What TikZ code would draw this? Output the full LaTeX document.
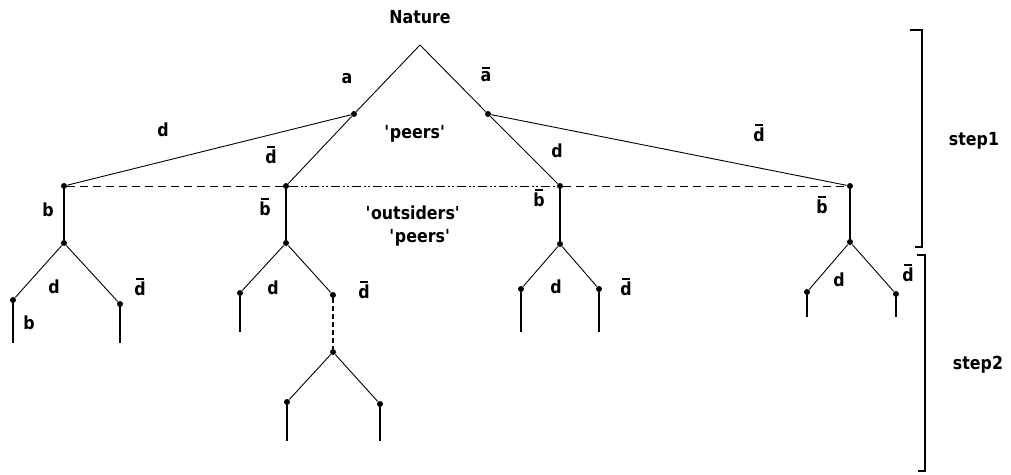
\documentclass[tikz,border=0pt]{standalone}
\usepackage{fontspec}
\setmainfont[FakeStretch=0.88]{DejaVu Sans}
\newcommand\qs{\textquotesingle}
\newcommand\barlab[1]{\setbox0\hbox{#1}\vbox{\offinterlineskip\hbox to\wd0{\hss\rule{0.7\wd0}{2.2pt}\hss}\kern2pt\box0}}
\begin{document}
\begin{tikzpicture}[x=1pt,y=-1pt,line width=.9pt,
	dot/.style={circle,fill,inner sep=0pt,minimum size=6pt},
	lab/.style={font=\fontsize{18}{20}\selectfont\bfseries,inner sep=0pt},
	stem/.style={line width=1.3pt},
	hdash/.style={dash pattern=on 8pt off 5pt},
	hmix/.style={dash pattern=on 9pt off 3pt on 2pt off 2pt on 2pt off 3pt}]
	\useasboundingbox (0,0) rectangle (1011,474);
	% step 1
	\coordinate (root) at (420,45);
	\node[dot] (A) at (354,114) {};	\node[dot] (Ab) at (488,114) {};
	\node[dot] (L1) at (64,186) {};	\node[dot] (L2) at (286,186) {};
	\node[dot] (L3) at (560,186) {};	\node[dot] (L4) at (850,186) {};
	\node[dot] (M1) at (64,243) {};	\node[dot] (M2) at (286,243) {};
	\node[dot] (M3) at (560,244) {};	\node[dot] (M4) at (850,242) {};
	\draw (root)--(A);	\draw (root)--(Ab);
	\draw (A)--(L1);	\draw (A)--(L2);
	\draw (Ab)--(L3);	\draw (Ab)--(L4);
	\draw[hdash] (L1)--(L2);	\draw[hmix] (L2)--(L3);	\draw[hdash] (L3)--(L4);
	\draw[stem] (L1)--(M1);	\draw[stem] (L2)--(M2);
	\draw[stem] (L3)--(M3);	\draw[stem] (L4)--(M4);
	% step 2
	\node[dot] (c11) at (13,300) {};	\node[dot] (c12) at (120,304) {};
	\node[dot] (c21) at (240,293) {};	\node[dot] (c22) at (333,295) {};
	\node[dot] (N) at (333,352) {};
	\node[dot] (n1) at (287,402) {};	\node[dot] (n2) at (380,404) {};
	\node[dot] (c31) at (521,289) {};	\node[dot] (c32) at (599,289) {};
	\node[dot] (c41) at (807,292) {};	\node[dot] (c42) at (896,294) {};
	\coordinate (e11) at (13,343);	\coordinate (e12) at (120,343);
	\coordinate (e21) at (240,332);
	\coordinate (f1) at (287,441);	\coordinate (f2) at (380,441);
	\coordinate (e31) at (521,332);	\coordinate (e32) at (599,332);
	\coordinate (e41) at (807,317);	\coordinate (e42) at (896,317);
	\draw (M1)--(c11);	\draw (M1)--(c12);
	\draw (M2)--(c21);	\draw (M2)--(c22);
	\draw (N)--(n1);	\draw (N)--(n2);
	\draw (M3)--(c31);	\draw (M3)--(c32);
	\draw (M4)--(c41);	\draw (M4)--(c42);
	\draw[stem] (c11)--(e11);	\draw[stem] (c12)--(e12);
	\draw[stem] (c21)--(e21);	\draw[stem,dash pattern=on 5pt off 3pt] (c22)--(N);
	\draw[stem] (n1)--(f1);	\draw[stem] (n2)--(f2);
	\draw[stem] (c31)--(e31);	\draw[stem] (c32)--(e32);
	\draw[stem] (c41)--(e41);	\draw[stem] (c42)--(e42);
	% labels
	\node[lab] (nat) at (420,17) {Nature};
	\node[lab] (la) at (347,79) {a};	\node[lab] (lab) at (486,74) {\barlab{a}};
	\node[lab] (ld1) at (163,130) {d};	\node[lab] (ldb1) at (271,155) {\barlab{d}};
	\node[lab] (peer1) at (415,134) {\qs peers\qs};
	\node[lab] (ld2) at (557,151) {d};	\node[lab] (ldb2) at (759,133) {\barlab{d}};
	\node[lab] (lb1) at (48,210) {b};	\node[lab] (lbb1) at (265,207) {\barlab{b}};
	\node[lab] (outs) at (413,213) {\qs outsiders\qs};
	\node[lab] (peer2) at (420,238) {\qs peers\qs};
	\node[lab] (lbb2) at (539,198) {\barlab{b}};	\node[lab] (lbb3) at (822,205) {\barlab{b}};
	\node[lab] (ld3) at (54,287) {d};	\node[lab] (ldb3) at (140,287) {\barlab{d}};
	\node[lab] (lb2) at (29,323) {b};
	\node[lab] (ld4) at (273,288) {d};	\node[lab] (ldb4) at (364,290) {\barlab{d}};
	\node[lab] (ld5) at (556,287) {d};	\node[lab] (ldb5) at (626,287) {\barlab{d}};
	\node[lab] (ld6) at (839,280) {d};	\node[lab] (ldb6) at (908,273) {\barlab{d}};
	% brackets
	\draw[stem] (910,30)--(922,30)--(922,247)--(915,247);
	\draw[stem] (917,255)--(925,255)--(925,471)--(918,471);
	\node[lab] (s1) at (974,141) {step1};
	\node[lab] (s2) at (978,365) {step2};
\end{tikzpicture}
\end{document}
